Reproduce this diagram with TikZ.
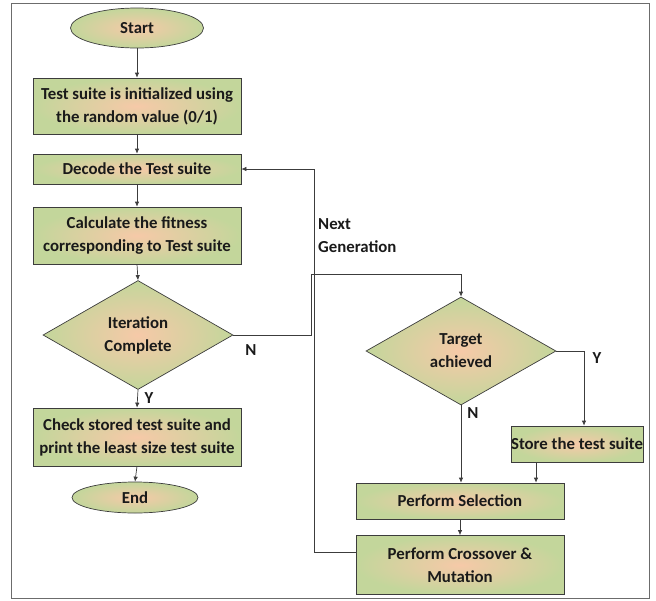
\documentclass[tikz,border=0pt]{standalone}
\usepackage{fontspec}
\setmainfont{Carlito}
\usetikzlibrary{shapes.geometric,arrows.meta}
\definecolor{boxgreen}{HTML}{C3D69B}
\definecolor{boxpeach}{HTML}{F6C9A8}
\definecolor{lineclr}{HTML}{3C3C3C}
\definecolor{txtclr}{HTML}{1A1A1A}
\begin{document}
\begin{tikzpicture}[x=1pt,y=-1pt,
  font=\fontsize{16.8}{23}\selectfont\bfseries,
  every node/.style={text=txtclr},
  shapebase/.style={draw=lineclr, line width=0.7pt, inner color=boxpeach, outer color=boxgreen, align=center, inner sep=0pt},
  procbox/.style={shapebase, rectangle},
  termbox/.style={shapebase, ellipse},
  decbox/.style={shapebase, diamond, shape aspect=1.75},
  conn/.style={draw=lineclr, line width=0.7pt},
  arr/.style={conn, -{Latex[length=5pt,width=4.5pt]}},
  lbl/.style={inner sep=0pt, text=txtclr}
]
\useasboundingbox (0,0) rectangle (656,600);
\draw[draw=gray!85!black, line width=0.9pt] (11,3) rectangle (649,598);

\node[termbox, minimum width=133pt, minimum height=40pt] (start) at (137,28) {Start};
\node[procbox, minimum width=208pt, minimum height=56pt] (init) at (137,106) {Test suite is initialized using\\the random value (0/1)};
\node[procbox, minimum width=208pt, minimum height=30pt] (decode) at (137,169) {Decode the Test suite};
\node[procbox, minimum width=208pt, minimum height=57pt] (fit) at (137,235.5) {Calculate the fitness\\corresponding to Test suite};
\node[decbox, minimum width=190pt, minimum height=109pt] (iter) at (138,335) {Iteration\\Complete};
\node[procbox, minimum width=208pt, minimum height=58pt] (check) at (137,437) {Check stored test suite and\\print the least size test suite};
\node[termbox, minimum width=126pt, minimum height=31pt] (end) at (135,497.5) {End};

\node[decbox, minimum width=190pt, minimum height=108pt] (target) at (461,351) {Target\\achieved};
\node[procbox, minimum width=132pt, minimum height=36pt] (store) at (577,444) {Store the test suite};
\node[procbox, minimum width=208pt, minimum height=36pt] (sel) at (460,501) {Perform Selection};
\node[procbox, minimum width=208pt, minimum height=59pt] (cross) at (460,565) {Perform Crossover \&\\Mutation};

\coordinate (nA) at (311,274);
\coordinate (fb) at (314,169);

\draw[arr] (start.south) -- (init.north);
\draw[arr] (init.south) -- (decode.north);
\draw[arr] (decode.south) -- (fit.north);
\draw[arr] (fit.south) -- (iter.north);
\draw[arr] (iter.south) -- (check.north);
\draw[arr] (check.south) -- (end.north);

\draw[arr] (iter.east) -| (nA) -| (target.north);
\draw[arr] ([yshift=13pt]cross.west) -| (fb) -- (decode.east);

\draw[arr] (target.east) -| ([xshift=7pt]store.north);
\draw[arr] (target.south) -- (target.south |- sel.north);
\draw[arr] ([xshift=-41pt]store.south) -- ([xshift=-41pt]store.south |- sel.north);
\draw[arr] (sel.south) -- (sel.south |- cross.north);

\node[lbl] (ly1) at (149,398) {Y};
\node[lbl] (ln1) at (251,350) {N};
\node[lbl, anchor=west, align=left] (lng) at (318,236) {Next\\Generation};
\node[lbl] (ln2) at (473,413) {N};
\node[lbl] (ly2) at (597,358) {Y};
\end{tikzpicture}
\end{document}
